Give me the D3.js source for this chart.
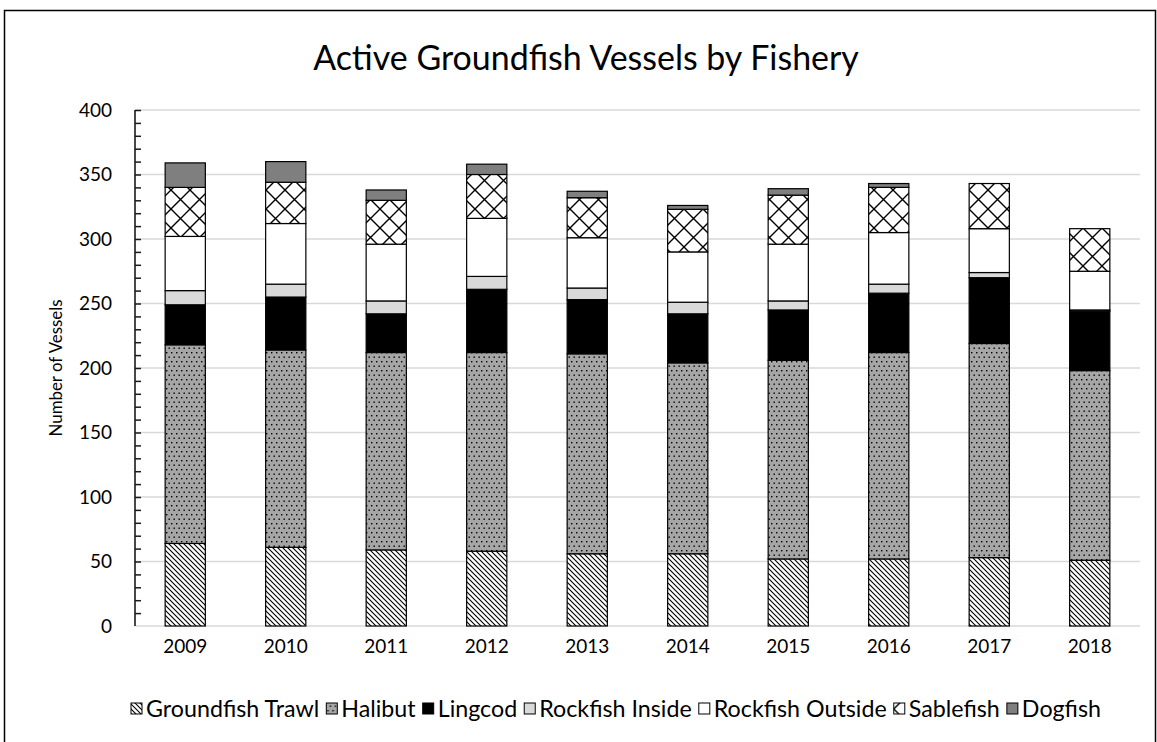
<!DOCTYPE html>
<html>
<head>
<meta charset="utf-8">
<script src="https://cdn.jsdelivr.net/npm/d3@7"></script>
<style>
  html, body { margin: 0; padding: 0; background: #fff; }
  svg { display: block; }
  text { font-family: Lato, "Open Sans", sans-serif; fill: #000; }
</style>
</head>
<body>
<svg id="chart" width="1157" height="742"></svg>
<script>
// ---- Data ----
const years = ["2009","2010","2011","2012","2013","2014","2015","2016","2017","2018"];
const seriesNames = ["Groundfish Trawl","Halibut","Lingcod","Rockfish Inside","Rockfish Outside","Sablefish","Dogfish"];
const groundfishTrawl = [64, 61, 59, 58, 56, 56, 52, 52, 53, 51];
const halibut         = [154, 153, 153, 154, 155, 148, 154, 160, 166, 147];
const lingcod         = [31, 41, 30, 49, 42, 38, 39, 46, 51, 46];
const rockfishInside  = [11, 10, 10, 10, 9, 9, 7, 7, 4, 1];
const rockfishOutside = [42, 47, 44, 45, 39, 39, 44, 40, 34, 30];
const sablefish       = [38, 32, 34, 34, 31, 33, 38, 35, 35, 33];
const dogfish         = [19, 16, 8, 8, 5, 3, 5, 3, 0, 0];
const yTicks = [0, 50, 100, 150, 200, 250, 300, 350, 400];

const seriesValues = [groundfishTrawl, halibut, lingcod, rockfishInside, rockfishOutside, sablefish, dogfish];
const table = years.map((yr, i) => {
  const row = { year: yr };
  seriesNames.forEach((s, k) => row[s] = seriesValues[k][i]);
  return row;
});

// ---- Layout ----
const svg = d3.select("#chart");
const plot = { left: 135, right: 1140, top: 110, bottom: 626 };

// Outer frame
svg.append("rect").attr("x", 4.5).attr("y", 10.5).attr("width", 1151).attr("height", 740)
  .attr("fill", "none").attr("stroke", "#000").attr("stroke-width", 1.5);

// ---- Patterns ----
const defs = svg.append("defs");
// Groundfish Trawl: downward diagonal lines
const pT = defs.append("pattern").attr("id", "pTrawl").attr("patternUnits", "userSpaceOnUse")
  .attr("width", 5).attr("height", 5);
pT.append("rect").attr("width", 5).attr("height", 5).attr("fill", "#fff");
pT.append("path").attr("d", "M-1,-1 L6,6 M-1,4 L1,6 M4,-1 L6,1").attr("stroke", "#000").attr("stroke-width", 1.1);
// Halibut: grey with black dots
const pH = defs.append("pattern").attr("id", "pHalibut").attr("patternUnits", "userSpaceOnUse")
  .attr("width", 5).attr("height", 9);
pH.append("rect").attr("width", 5).attr("height", 9).attr("fill", "#a6a6a6");
pH.append("rect").attr("x", 1).attr("y", 1).attr("width", 1.4).attr("height", 1.4).attr("fill", "#000");
pH.append("rect").attr("x", 3.5).attr("y", 5.5).attr("width", 1.4).attr("height", 1.4).attr("fill", "#000");
// Sablefish: diamond crosshatch
const pS = defs.append("pattern").attr("id", "pSable").attr("patternUnits", "userSpaceOnUse")
  .attr("width", 19).attr("height", 19);
pS.append("rect").attr("width", 19).attr("height", 19).attr("fill", "#fff");
pS.append("path").attr("d", "M0,0 L19,19 M19,0 L0,19").attr("stroke", "#000").attr("stroke-width", 1.4);

const fills = {
  "Groundfish Trawl": "url(#pTrawl)",
  "Halibut": "url(#pHalibut)",
  "Lingcod": "#000000",
  "Rockfish Inside": "#d9d9d9",
  "Rockfish Outside": "#ffffff",
  "Sablefish": "url(#pSable)",
  "Dogfish": "#7f7f7f"
};

// ---- Scales ----
const x = d3.scaleBand().domain(years).range([plot.left, plot.right]).paddingInner(0.6).paddingOuter(0.3);
const y = d3.scaleLinear().domain([0, 400]).range([plot.bottom, plot.top]);

// Gridlines
svg.append("g").selectAll("line").data(yTicks).join("line")
  .attr("x1", plot.left).attr("x2", plot.right)
  .attr("y1", d => y(d)).attr("y2", d => y(d))
  .attr("stroke", "#d9d9d9").attr("stroke-width", 1.5);

// ---- Bars ----
const stack = d3.stack().keys(seriesNames);
const stacked = stack(table);
svg.append("g").selectAll("g").data(stacked).join("g")
  .attr("fill", d => fills[d.key])
  .selectAll("rect").data(d => d.filter(s => s[1] - s[0] > 0)).join("rect")
  .attr("x", d => x(d.data.year))
  .attr("width", x.bandwidth())
  .attr("y", d => y(d[1]))
  .attr("height", d => y(d[0]) - y(d[1]))
  .attr("stroke", "#000").attr("stroke-width", 1.2);

// ---- Y axis ----
const yAxisMinor = d3.axisRight(y).tickValues(d3.range(10, 401, 10)).tickSize(6).tickFormat("");
const gMinor = svg.append("g").attr("transform", `translate(${plot.left},0)`).call(yAxisMinor);
gMinor.select(".domain").remove();
gMinor.selectAll(".tick line").attr("stroke", "#1a1a1a").attr("stroke-width", 1.5);
svg.append("line").attr("x1", plot.left).attr("x2", plot.left).attr("y1", plot.top).attr("y2", plot.bottom)
  .attr("stroke", "#1a1a1a").attr("stroke-width", 1.6);

const yAxis = d3.axisLeft(y).tickValues(yTicks).tickSize(0).tickPadding(23);
const gY = svg.append("g").attr("transform", `translate(${plot.left},0)`).call(yAxis);
gY.select(".domain").remove();
gY.selectAll("text").attr("font-family", "Lato, sans-serif").attr("font-size", 19).attr("fill", "#000");

// ---- X axis labels ----
const xAxis = d3.axisBottom(x).tickSize(0).tickPadding(14);
const gX = svg.append("g").attr("transform", `translate(0,${plot.bottom})`).call(xAxis);
gX.select(".domain").remove();
gX.selectAll("text").attr("font-family", "Lato, sans-serif").attr("font-size", 19).attr("fill", "#000");

// ---- Title ----
function fit(sel, target) {
  const fs = parseFloat(sel.attr("font-size"));
  const w = sel.node().getComputedTextLength();
  sel.attr("font-size", fs * target / w);
}
const title = svg.append("text").attr("x", 586).attr("y", 70).attr("text-anchor", "middle")
  .attr("font-size", 30).text("Active Groundfish Vessels by Fishery");
fit(title, 546);

// ---- Y axis title ----
const yTitle = svg.append("text").attr("transform", "translate(62,368) rotate(-90)")
  .attr("text-anchor", "middle").attr("font-size", 15).text("Number of Vessels");
fit(yTitle, 137);

// ---- Legend ----
const legend = svg.append("g").attr("transform", "translate(0,709)");
const legendFont = 18;
const items = legend.selectAll("g").data(seriesNames).join("g");
items.append("rect").attr("width", 11).attr("height", 11).attr("y", -6)
  .attr("fill", d => fills[d]).attr("stroke", "#000").attr("stroke-width", 1);
items.append("text").attr("x", 15).attr("y", 0).attr("dy", "0.35em")
  .attr("font-size", legendFont).text(d => d);
// scale legend text so that the total span matches 131 -> 1101
let widths = items.select("text").nodes().map(n => n.getComputedTextLength());
const gap = 7, sw = 15;
const totalTextTarget = (1101 - 131) - seriesNames.length * sw - (seriesNames.length - 1) * gap;
const scaleF = totalTextTarget / d3.sum(widths);
items.select("text").attr("font-size", legendFont * scaleF);
widths = widths.map(w => w * scaleF);
let cx = 131;
items.each(function(d, i) {
  d3.select(this).attr("transform", `translate(${cx},0)`);
  cx += sw + widths[i] + gap;
});
</script>
</body>
</html>
